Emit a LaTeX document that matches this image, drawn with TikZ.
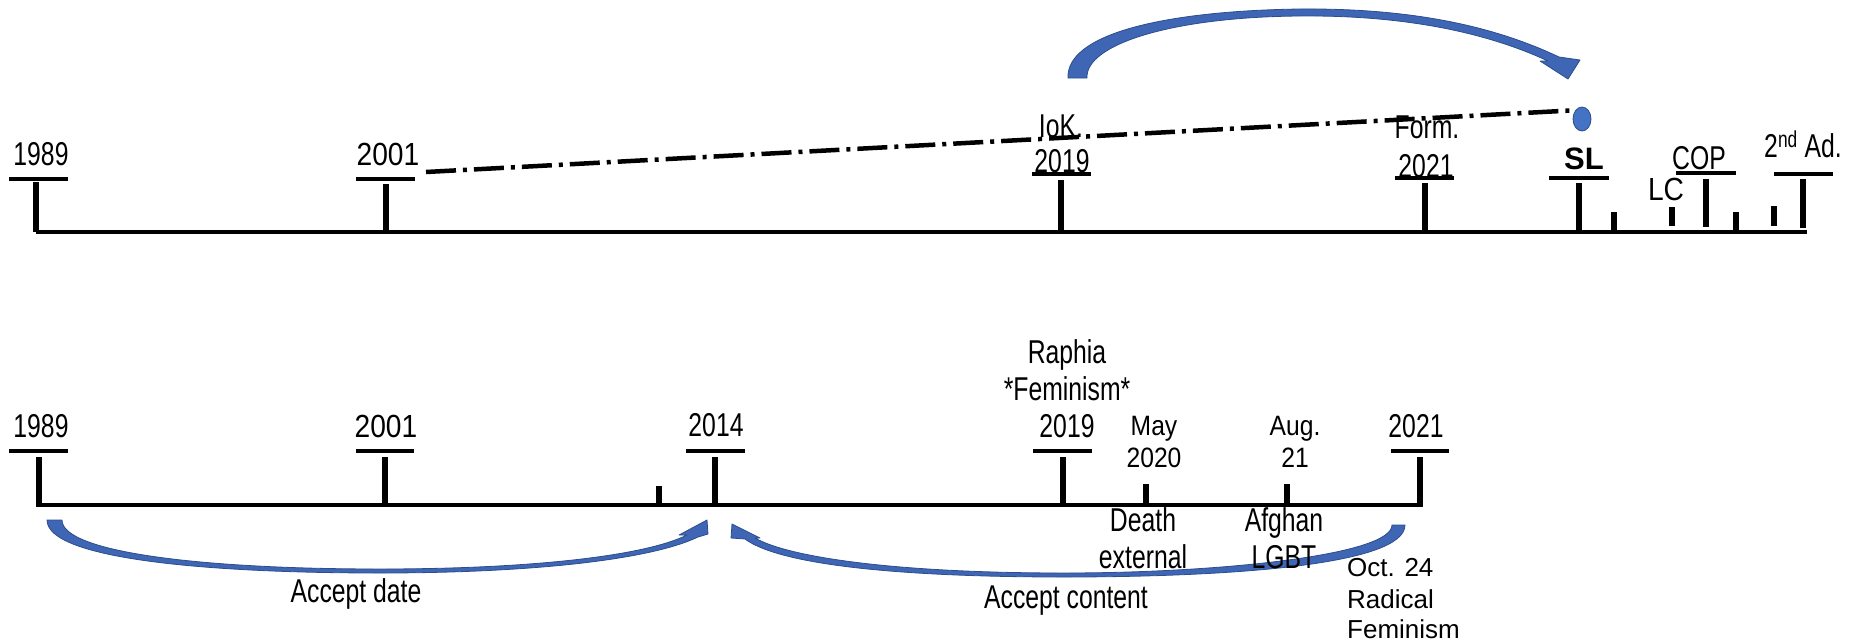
\documentclass[tikz,border=0pt]{standalone}
\usepackage{fontspec}
\setmainfont{Liberation Sans}
\newfontfamily\narrowfont[FakeStretch=0.75]{Liberation Sans}
\newfontfamily\midfont[FakeStretch=0.88]{Liberation Sans}
\usetikzlibrary{shapes.geometric}
\definecolor{arrowblue}{RGB}{62,102,180}
\definecolor{arrowedge}{RGB}{44,78,140}
\definecolor{dotblue}{RGB}{68,114,196}

\begin{document}
\begin{tikzpicture}[x=1pt, y=-1pt,
    axis/.style={line width=4.5pt},
    tick/.style={line width=5.5pt},
    bar/.style={line width=4.5pt},
    yr/.style={font=\narrowfont\fontsize{33}{38}\selectfont, anchor=base, inner sep=0pt},
    yrw/.style={font=\midfont\fontsize{32}{37}\selectfont, anchor=base, inner sep=0pt},
    note/.style={font=\midfont\fontsize{28}{33}\selectfont, anchor=base, inner sep=0pt},
    side/.style={font=\fontsize{26}{31}\selectfont, anchor=base west, inner sep=0pt},
    bluearrow/.style={fill=arrowblue, draw=arrowedge, line width=0.8pt, line join=round}]
    \useasboundingbox (0,0) rectangle (1858,643);
    % Upper time line
    \draw[axis] (36,232) -- (1807,232);
    \draw[tick] (36,182) -- (36,232);
    \draw[tick] (386,184) -- (386,232);
    \draw[tick] (1061,180) -- (1061,232);
    \draw[tick] (1425,183) -- (1425,232);
    \draw[tick] (1579,183) -- (1579,232);
    \draw[tick] (1614,212) -- (1614,232);
    \draw[tick] (1672,207) -- (1672,226);
    \draw[tick] (1706,179) -- (1706,227);
    \draw[tick] (1736,212) -- (1736,232);
    \draw[tick] (1774,206) -- (1774,226);
    \draw[tick] (1803,179) -- (1803,228);
    \draw[bar] (9,179) -- (68,179);
    \draw[bar] (356,179) -- (415,179);
    \draw[bar] (1032,174) -- (1091,174);
    \draw[bar] (1395,178) -- (1454,178);
    \draw[bar] (1549,178) -- (1609,178);
    \draw[bar] (1676,173) -- (1736,173);
    \draw[bar] (1774,174) -- (1833,174);
    % Upper labels
    \node[yr] (t89) at (41,165) {1989};
    \node[yrw] (t01) at (388,165) {2001};
    \node[yr] (iok) at (1061,137) {IoK.};
    \node[yr] (t19) at (1062,172) {2019};
    \node[yr] (form) at (1427,138) {Form.};
    \node[yr] (t21) at (1426,177) {2021};
    \node[anchor=base, inner sep=0pt, font=\bfseries\fontsize{31}{36}\selectfont] (sl) at (1584,169) {SL};
    \node[yrw] (lc) at (1666,200) {LC};
    \node[yr] (cop) at (1699,169) {COP};
    \node[yr] (ad2) at (1803,157) {2\textsuperscript{nd} Ad.};
    % Dot and dash-dot line
    \node[ellipse, draw=arrowedge, fill=dotblue, line width=0.8pt, minimum width=18pt, minimum height=24pt, inner sep=0pt] (sldot) at (1582,119) {};
    \coordinate (ddstart) at (426,172);
    \draw[line width=4.5pt, dash pattern=on 30pt off 7pt on 4pt off 7pt] (ddstart) -- (sldot.north west);
    % Upper curved arrow
    \filldraw[bluearrow] (1068,78) .. controls (1066,35) and (1160,11) .. (1300,9)
        .. controls (1420,8) and (1500,29) .. (1559,57) -- (1580,60) -- (1568,79) -- (1540,61) -- (1548,61)
        .. controls (1494,36) and (1415,15) .. (1300,16)
        .. controls (1170,17) and (1085,45) .. (1087,78) -- cycle;
    % Lower time line
    \draw[axis] (36,505) -- (1420,505);
    \draw[tick] (39,457) -- (39,505);
    \draw[tick] (385,457) -- (385,505);
    \draw[tick] (659,486) -- (659,505);
    \draw[tick] (715,457) -- (715,505);
    \draw[tick] (1063,457) -- (1063,505);
    \draw[tick] (1146,484) -- (1146,505);
    \draw[tick] (1287,484) -- (1287,505);
    \draw[tick] (1420,457) -- (1420,507);
    \draw[bar] (9,451) -- (68,451);
    \draw[bar] (356,451) -- (414,451);
    \draw[bar] (686,451) -- (745,451);
    \draw[bar] (1033,451) -- (1092,451);
    \draw[bar] (1391,451) -- (1449,451);
    % Lower curved arrows
    \filldraw[bluearrow] (47,520) .. controls (47,558) and (200,573) .. (380,573)
        .. controls (530,573) and (650,560) .. (698,537) -- (708,534) -- (707,520) -- (679,535) -- (687,535)
        .. controls (645,556) and (530,569) .. (380,569)
        .. controls (200,569) and (62,552) .. (62,520) -- cycle;
    \filldraw[bluearrow] (1405,525) .. controls (1405,565) and (1230,577) .. (1064,577)
        .. controls (900,577) and (780,565) .. (745,539) -- (731,538) -- (732,524) -- (760,538) -- (755,538)
        .. controls (790,558) and (900,573) .. (1064,573)
        .. controls (1220,573) and (1392,555) .. (1392,525) -- cycle;
    % Lower labels
    \node[yr] (b89) at (41,437) {1989};
    \node[yrw] (b01) at (386,437) {2001};
    \node[yr] (b14) at (716,436) {2014};
    \node[yr] (raphia) at (1067,363) {Raphia};
    \node[yr] (fem) at (1067,400) {*Feminism*};
    \node[yr] (b19) at (1067,437) {2019};
    \node[note] (may) at (1154,435) {May};
    \node[note] (b20) at (1154,467) {2020};
    \node[note] (aug) at (1295,435) {Aug.};
    \node[note] (aug21) at (1295,467) {21};
    \node[yr] (b21) at (1416,437) {2021};
    \node[yr] (death) at (1143,531) {Death};
    \node[yr] (ext) at (1143,568) {external};
    \node[yr] (afg) at (1284,531) {Afghan};
    \node[yr] (lgbt) at (1284,568) {LGBT};
    \node[yr] (adate) at (356,602) {Accept date};
    \node[yr] (acont) at (1066,608) {Accept content};
    \node[side] (oct) at (1347,576) {Oct. 24};
    \node[side] (rad) at (1347,608) {Radical};
    \node[side] (radfem) at (1347,638) {Feminism};
\end{tikzpicture}
\end{document}
